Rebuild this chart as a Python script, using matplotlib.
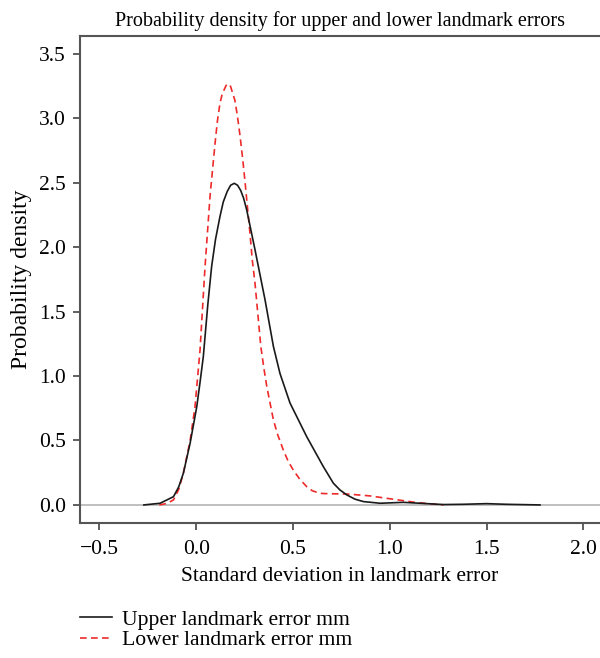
import matplotlib.pyplot as plt

plt.rcParams['font.family'] = ['Liberation Serif', 'DejaVu Serif']

# density curve of upper landmark error
upper_x = [-0.27, -0.186, -0.117, -0.09, -0.066, -0.031, 0.003, 0.02, 0.037, 0.06,
           0.08, 0.1, 0.123, 0.14, 0.16, 0.178, 0.197, 0.214, 0.23, 0.245,
           0.261, 0.304, 0.356, 0.399, 0.433, 0.485, 0.571, 0.657, 0.709, 0.743,
           0.778, 0.82, 0.864, 0.95, 1.07, 1.157, 1.277, 1.38, 1.5, 1.6, 1.776]
upper_y = [0.0, 0.013, 0.064, 0.14, 0.246, 0.48, 0.76, 0.95, 1.15, 1.55,
           1.85, 2.06, 2.237, 2.35, 2.43, 2.48, 2.495, 2.48, 2.44, 2.38,
           2.29, 1.98, 1.59, 1.23, 1.02, 0.79, 0.53, 0.297, 0.168, 0.116,
           0.078, 0.045, 0.026, 0.013, 0.02, 0.013, 0.003, 0.005, 0.01, 0.005, 0.0]

# density curve of lower landmark error
lower_x = [-0.19, -0.15, -0.117, -0.09, -0.066, -0.031, -0.006, 0.02, 0.046, 0.072,
           0.098, 0.11, 0.123, 0.135, 0.155, 0.166, 0.176, 0.2, 0.213, 0.227,
           0.24, 0.253, 0.265, 0.278, 0.29, 0.304, 0.32, 0.334, 0.35, 0.365,
           0.399, 0.42, 0.45, 0.475, 0.502, 0.535, 0.571, 0.6, 0.64, 0.68,
           0.778, 0.898, 1.019, 1.14, 1.277]
lower_y = [0.0, 0.012, 0.039, 0.12, 0.246, 0.5, 0.76, 1.2, 1.85, 2.4,
           2.81, 2.98, 3.116, 3.19, 3.255, 3.266, 3.255, 3.14, 3.02, 2.86,
           2.69, 2.5, 2.31, 2.11, 1.9, 1.72, 1.46, 1.23, 1.06, 0.918,
           0.66, 0.55, 0.427, 0.34, 0.27, 0.2, 0.142, 0.11, 0.09, 0.087,
           0.085, 0.07, 0.044, 0.018, 0.0]

xticks = [-0.5, 0.0, 0.5, 1.0, 1.5, 2.0]
yticks = [0.0, 0.5, 1.0, 1.5, 2.0, 2.5, 3.0, 3.5]

fig = plt.figure(figsize=(6, 6.58), dpi=100)
ax = fig.add_axes([0.1333, 0.2052, 0.8667, 0.7401])

ax.axhline(0, color='#b4b4b4', lw=1.2, zorder=1)
l1, = ax.plot(upper_x, upper_y, color='#1a1a1a', lw=1.2, label='Upper landmark error mm', zorder=3)
l2, = ax.plot(lower_x, lower_y, color='#ee2a2a', lw=1.2, dashes=(4, 2.6),
              label='Lower landmark error mm', zorder=2)

ax.set_xlim(-0.6, 2.086)
ax.set_ylim(-0.14, 3.638)
ax.set_xticks(xticks)
ax.set_xticklabels([f'{v:.1f}'.replace('-', '\u2212') for v in xticks])
ax.set_yticks(yticks)
ax.set_yticklabels([f'{v:.1f}' for v in yticks])
ax.tick_params(direction='out', length=5, width=1.2, color='#444444', labelsize=15.5, pad=5)
ax.tick_params(axis='x', pad=7)

for s in ['left', 'top', 'bottom']:
    ax.spines[s].set_color('#555555')
    ax.spines[s].set_linewidth(1.5)
ax.spines['right'].set_visible(False)

ax.set_title('Probability density for upper and lower landmark errors', fontsize=14.5, pad=7)
ax.set_xlabel('Standard deviation in landmark error', fontsize=15.5, labelpad=6)
ax.set_ylabel('Probability density', fontsize=17, labelpad=5)

fig.legend(handles=[l1, l2], loc='lower left', bbox_to_anchor=(0.1333, 0.012),
           frameon=False, fontsize=15.6, handlelength=1.5, handletextpad=0.45,
           labelspacing=0.0, borderaxespad=0, borderpad=0)

fig.savefig('out.png', dpi=100)
